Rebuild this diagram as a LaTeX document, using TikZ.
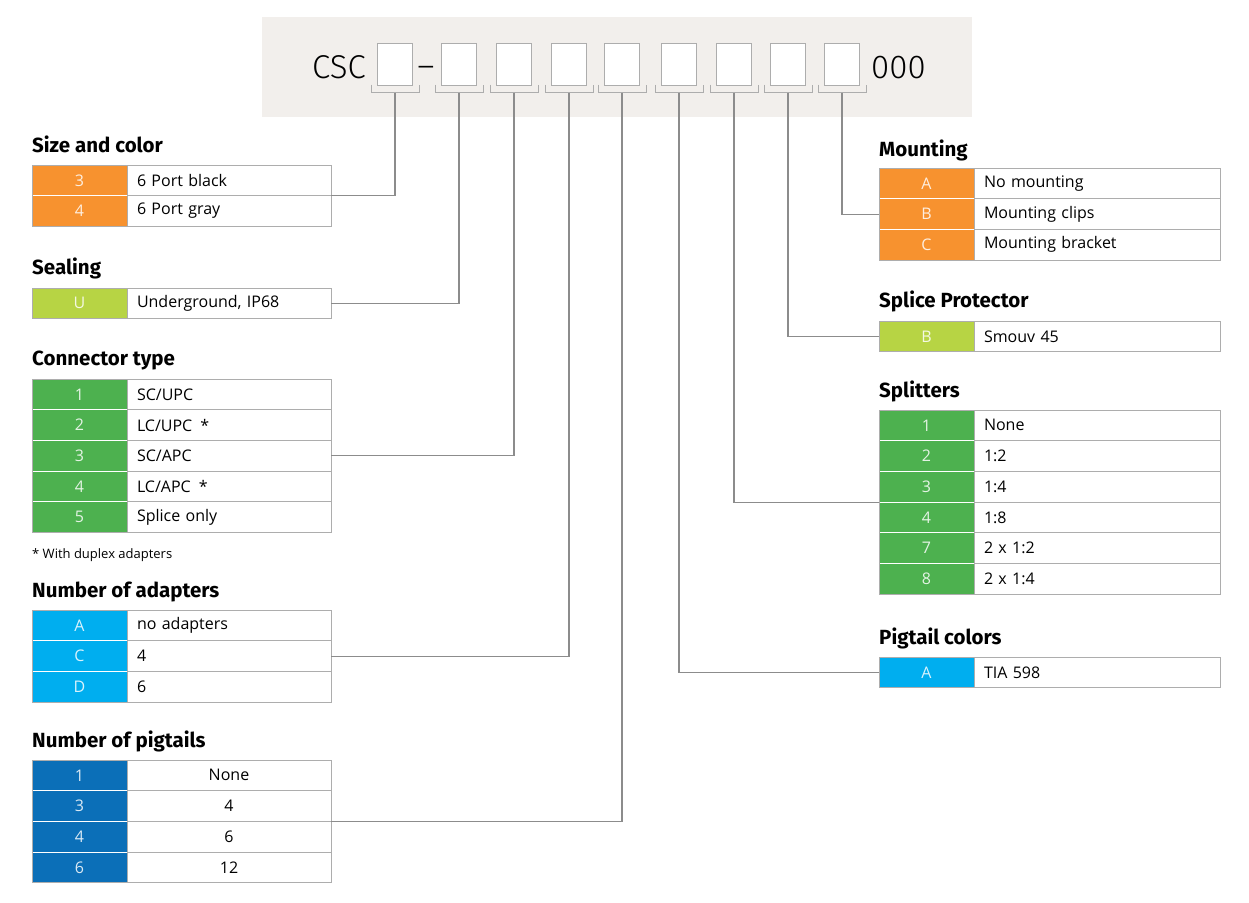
\documentclass[tikz,border=0pt]{standalone}
\usepackage{fontspec}
\setmainfont{Open Sans}
\newfontfamily\ttlfont{Fira Sans}
\newfontfamily\hdrfont{Fira Sans}[UprightFont=* Light]
\usetikzlibrary{positioning,calc}
\definecolor{orng}{HTML}{F7922F}
\definecolor{lime}{HTML}{B7D444}
\definecolor{grn}{HTML}{4DB14F}
\definecolor{cyan}{HTML}{00AEEF}
\definecolor{dblue}{HTML}{0B6FB8}
\definecolor{hdrbg}{HTML}{F2EFEC}
\definecolor{framegray}{HTML}{ADADAD}
\definecolor{linkgray}{HTML}{8C8C8C}

\begin{document}
\begin{tikzpicture}[x=1pt,y=-1pt]
	\tikzset{
		cell/.style={inner sep=0pt, outer sep=0pt, minimum height=30.7pt, anchor=north west, font=\fontsize{16}{19}\selectfont},
		key/.style={cell, minimum width=95pt, draw=white, line width=0.8pt, text=white, text opacity=0.85},
		valL/.style={cell, draw=framegray, line width=0.8pt, text width=184pt, inner xsep=10pt, align=left},
		valR/.style={valL, text width=226pt},
		frame/.style={draw=framegray, line width=0.8pt},
		ttl/.style={anchor=base west, inner sep=0pt, font=\ttlfont\bfseries\fontsize{20.5}{24}\selectfont},
		hdr/.style={inner sep=0pt, font=\hdrfont\fontsize{33}{38}\selectfont},
		slot/.style={draw=framegray, fill=white, line width=1pt, minimum width=35pt, minimum height=42pt, inner sep=0pt},
		bracket/.style={draw=framegray, line width=1pt},
		link/.style={draw=linkgray, line width=1.1pt}
	}
	\useasboundingbox (0,0) rectangle (1249,902);

	% code header
	\fill[hdrbg] (262,17) rectangle (972,117);
	\node[hdr, anchor=base east] (csc) at (366,78) {CSC};
	\node[hdr, anchor=base] (dash) at (426,77) {–};
	\node[hdr, anchor=base west] (zeros) at (871,78) {000};
	\foreach \x [count=\i] in {395,459,514,569,622,679,734,788,842}{
		\node[slot] (b\i) at (\x,64) {};
		\draw[bracket] ($(b\i.south west)+(-6,-1)$) -- ++(0,8) -- ($(b\i.south east)+(6,7)$) -- ++(0,-8);
		\coordinate (t\i) at ($(b\i.south)+(0,7)$);
	}

	% left column
	\node[ttl] (tsize) at (32,152) {Size and color};
	\foreach \k/\v [count=\i] in {3/6 Port black,4/6 Port gray}{
		\node[key, fill=orng] (size\i) at (32,{165+(\i-1)*30.7}) {\k};
		\node[valL, right=0pt of size\i] (sizev\i) {\v};
	}
	\draw[frame] (size1.north west) rectangle (sizev2.south east);

	\node[ttl] (tseal) at (32,274) {Sealing};
	\node[key, fill=lime] (seal1) at (32,288) {U};
	\node[valL, right=0pt of seal1] (sealv1) {Underground, IP68};
	\draw[frame] (seal1.north west) rectangle (sealv1.south east);

	\node[ttl] (tcon) at (32,365) {Connector type};
	\foreach \k/\v [count=\i] in {1/{SC/UPC},2/{LC/UPC\enspace*},3/{SC/APC},4/{LC/APC\enspace*},5/{Splice only}}{
		\node[key, fill=grn] (con\i) at (32,{379+(\i-1)*30.7}) {\k};
		\node[valL, right=0pt of con\i] (conv\i) {\v};
	}
	\draw[frame] (con1.north west) rectangle (conv5.south east);
	\node[anchor=base west, inner sep=0pt, font=\fontsize{13}{15}\selectfont] (note) at (32,558) {* With duplex adapters};

	\node[ttl] (tadp) at (32,597) {Number of adapters};
	\foreach \k/\v [count=\i] in {A/no adapters,C/4,D/6}{
		\node[key, fill=cyan] (adp\i) at (32,{610+(\i-1)*30.7}) {\k};
		\node[valL, right=0pt of adp\i] (adpv\i) {\v};
	}
	\draw[frame] (adp1.north west) rectangle (adpv3.south east);

	\node[ttl] (tpig) at (32,747) {Number of pigtails};
	\foreach \k/\v [count=\i] in {1/None,3/4,4/6,6/12}{
		\node[key, fill=dblue] (pig\i) at (32,{760+(\i-1)*30.7}) {\k};
		\node[valL, align=center, right=0pt of pig\i] (pigv\i) {\v};
	}
	\draw[frame] (pig1.north west) rectangle (pigv4.south east);

	% right column
	\node[ttl] (tmnt) at (879,156) {Mounting};
	\foreach \k/\v [count=\i] in {A/No mounting,B/Mounting clips,C/Mounting bracket}{
		\node[key, fill=orng] (mnt\i) at (879,{168+(\i-1)*30.7}) {\k};
		\node[valR, right=0pt of mnt\i] (mntv\i) {\v};
	}
	\draw[frame] (mnt1.north west) rectangle (mntv3.south east);

	\node[ttl] (tspl) at (879,307) {Splice Protector};
	\node[key, fill=lime] (spl1) at (879,321) {B};
	\node[valR, right=0pt of spl1] (splv1) {Smouv 45};
	\draw[frame] (spl1.north west) rectangle (splv1.south east);

	\node[ttl] (tsplit) at (879,397) {Splitters};
	\foreach \k/\v [count=\i] in {1/None,2/1:2,3/1:4,4/1:8,7/2 x 1:2,8/2 x 1:4}{
		\node[key, fill=grn] (split\i) at (879,{410+(\i-1)*30.7}) {\k};
		\node[valR, right=0pt of split\i] (splitv\i) {\v};
	}
	\draw[frame] (split1.north west) rectangle (splitv6.south east);

	\node[ttl] (tpcol) at (879,644) {Pigtail colors};
	\node[key, fill=cyan] (pcol1) at (879,657) {A};
	\node[valR, right=0pt of pcol1] (pcolv1) {TIA 598};
	\draw[frame] (pcol1.north west) rectangle (pcolv1.south east);

	% connectors
	\draw[link] (t1) |- (sizev1.south east);
	\draw[link] (t2) |- (sealv1.east);
	\draw[link] (t3) |- (conv3.east);
	\draw[link] (t4) |- (adpv2.east);
	\draw[link] (t5) |- (pigv2.south east);
	\draw[link] (t6) |- (pcol1.west);
	\draw[link] (t7) |- (split3.south west);
	\draw[link] (t8) |- (spl1.west);
	\draw[link] (t9) |- (mnt2.west);
\end{tikzpicture}
\end{document}
